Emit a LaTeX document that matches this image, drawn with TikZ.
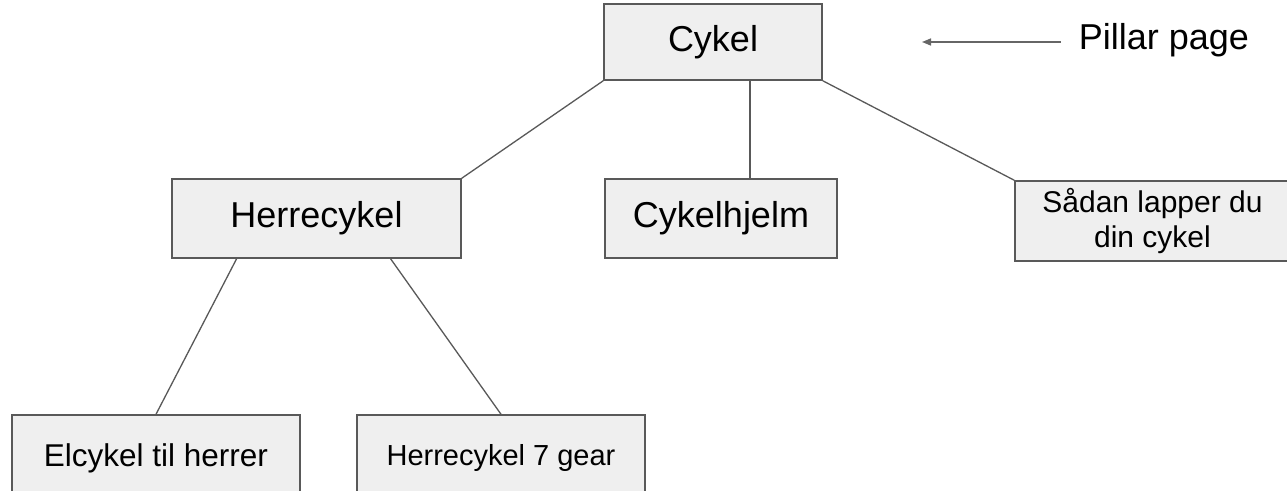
\documentclass[tikz,border=0pt]{standalone}
\usepackage{fontspec}
\setmainfont{Liberation Sans}
\usetikzlibrary{arrows.meta,calc}
\definecolor{boxfill}{HTML}{EFEFEF}
\definecolor{boxline}{HTML}{595959}
\definecolor{conn}{HTML}{595959}
\definecolor{arrcol}{HTML}{666666}
\begin{document}
\begin{tikzpicture}[x=1pt,y=-1pt,
  box/.style={draw=boxline,fill=boxfill,line width=1.5pt,rectangle,inner sep=0pt,align=center,text=black},
  big/.style={font=\fontsize{36}{42}\selectfont},
  conline/.style={draw=conn,line width=1.3pt},
  arr/.style={draw=arrcol,line width=1.5pt,-{Triangle[length=9pt,width=7pt]}}]
\useasboundingbox (0,0) rectangle (1287,490);
\clip (0,0) rectangle (1287,490);
\fill[white] (0,0) rectangle (1287,490);
% boxes
\node[box,big,minimum width=218pt,minimum height=76pt] (cykel) at (713,42) {Cykel};
\node[box,big,minimum width=289pt,minimum height=79pt] (herre) at (316.5,218.5) {Herrecykel};
\node[box,big,minimum width=232pt,minimum height=79pt] (hjelm) at (721,218.5) {Cykelhjelm};
\node[box,minimum width=275pt,minimum height=80pt,font=\fontsize{30}{35}\selectfont] (sadan) at (1152.5,221) {Sådan lapper du\\din cykel};
\node[box,minimum width=288pt,minimum height=86pt,font=\fontsize{31.5}{36}\selectfont] (el) at (156,458) {Elcykel til herrer};
\node[box,minimum width=288pt,minimum height=86pt,font=\fontsize{29}{34}\selectfont] (gear) at (501,458) {Herrecykel 7 gear};
% label and arrow
\node[inner sep=0pt,font=\fontsize{36}{42}\selectfont] (pp) at (1164,40) {Pillar page};
\coordinate (tip) at (922,42);
\draw[arr] ([xshift=-18pt]pp.west |- tip) -- (tip);
% connectors
\coordinate (hx) at (750,0);
\draw[conline] (cykel.south west) -- (herre.north east);
\draw[conline] (cykel.south -| hx) -- (hjelm.north -| hx);
\draw[conline] (cykel.south east) -- (sadan.north west);
\draw[conline] ($(herre.south west)!0.225!(herre.south east)$) -- (el.north);
\draw[conline] ($(herre.south west)!0.755!(herre.south east)$) -- (gear.north);
\end{tikzpicture}
\end{document}
